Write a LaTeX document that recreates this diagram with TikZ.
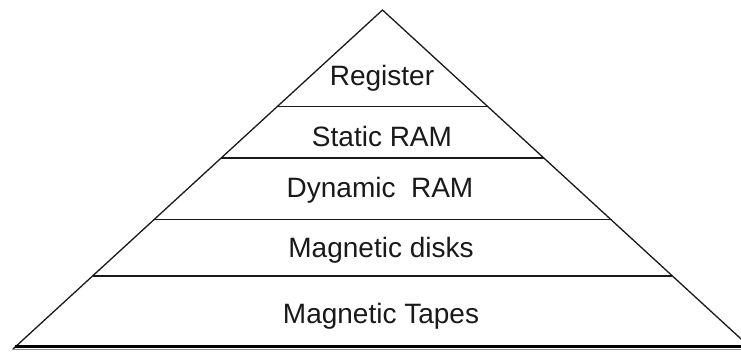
\documentclass[tikz,border=0pt]{standalone}
\usepackage{fontspec}
\setmainfont{Liberation Sans}
\usetikzlibrary{calc}
\begin{document}
\begin{tikzpicture}[x=1pt,y=-1pt,
  edge/.style={line width=1.3pt,draw=black!90},
  tier/.style={anchor=base,font=\fontsize{28}{30}\selectfont,text=black!90,inner sep=0pt}]
\useasboundingbox (0,0) rectangle (741,351);
\clip (0,0) rectangle (741,351);
% pyramid outline
\coordinate (apex) at (382.5,10);
\coordinate (bl) at (13,349);
\coordinate (br) at (752,349);
\draw[edge,line join=miter] (bl) -- (apex) -- (br);
% base: heavy rule with a grey rule below
\coordinate (b1) at (15,346.5);
\coordinate (b2) at (741,346.5);
\coordinate (g1) at (12,349.8);
\coordinate (g2) at (741,349.8);
\draw[line width=1.3pt,draw=black!45] (g1) -- (g2);
\draw[line width=3.2pt,draw=black] (b1) -- (b2);
% tier dividers
\foreach \y/\n in {106.5/d1,158/d2,219.5/d3,276/d4}{
  \coordinate (\n l) at ($(apex)!{(\y-10)/339}!(bl)$);
  \coordinate (\n r) at ($(apex)!{(\y-10)/339}!(br)$);
  \draw[edge] (\n l) -- (\n r);
}
% tier labels
\node[tier] (reg) at (382,85) {Register};
\node[tier] (sram) at (382,146) {Static RAM};
\node[tier] (dram) at (380,197) {Dynamic\ \ RAM};
\node[tier] (disk) at (381,257) {Magnetic disks};
\node[tier] (tape) at (381,323) {Magnetic Tapes};
\end{tikzpicture}
\end{document}
